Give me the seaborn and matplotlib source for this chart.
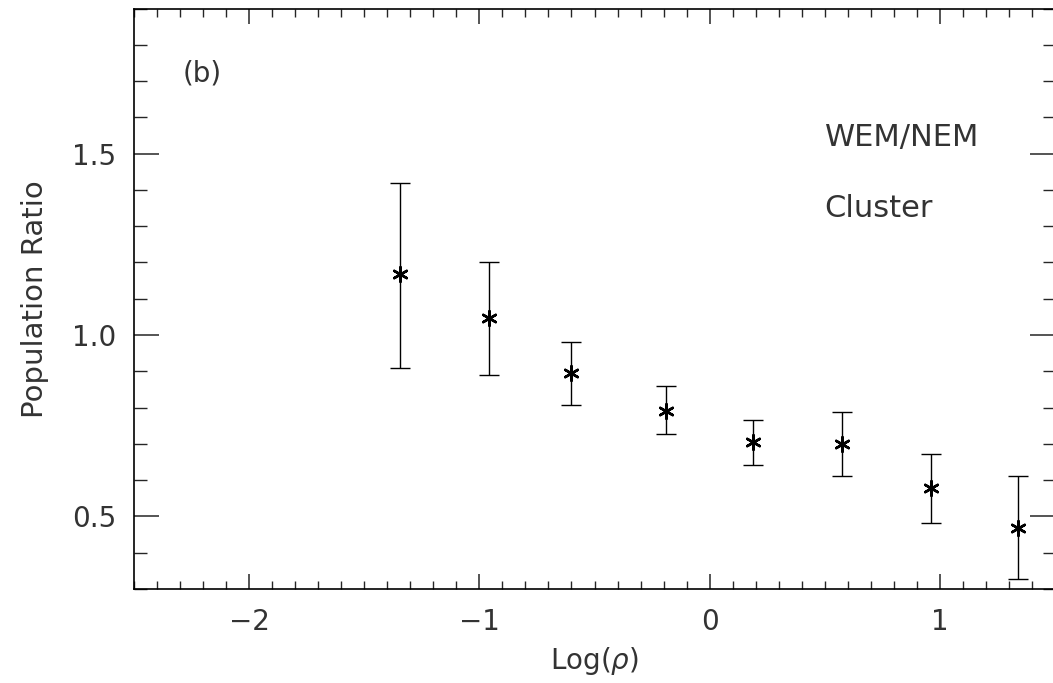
import matplotlib
matplotlib.use("Agg")
import matplotlib.pyplot as plt
import seaborn as sns
import numpy as np
import pandas as pd
from matplotlib.ticker import MultipleLocator

log_rho = [-1.345, -0.96, -0.60, -0.19, 0.19, 0.577, 0.96, 1.34]
ratio = [1.167, 1.047, 0.895, 0.791, 0.705, 0.700, 0.578, 0.469]
upper = [1.419, 1.200, 0.981, 0.860, 0.766, 0.788, 0.672, 0.612]
lower = [0.910, 0.890, 0.807, 0.727, 0.642, 0.612, 0.482, 0.327]

df = pd.DataFrame({"x": log_rho, "y": ratio, "hi": upper, "lo": lower})

sns.set_theme(style="ticks")
plt.rcParams['font.family'] = ['DejaVu Sans']

fig = plt.figure(figsize=(10.53, 6.83), dpi=100)
ax = fig.add_axes([134/1053, 94/683, 921/1053, 580.5/683])

ax.errorbar(df["x"], df["y"], yerr=[df["y"] - df["lo"], df["hi"] - df["y"]],
            fmt="none", ecolor="black", elinewidth=1.0, capsize=7, capthick=1.0)
sns.scatterplot(data=df, x="x", y="y", marker=(6, 2, 0), s=110, color="black",
                linewidth=1.8, edgecolor="black", ax=ax, zorder=3)

ax.set_xlim(-2.5, 1.5)
ax.set_ylim(0.3, 1.9)
ax.xaxis.set_minor_locator(MultipleLocator(0.1))
ax.yaxis.set_minor_locator(MultipleLocator(0.1))
ax.set_xticks([-2, -1, 0, 1])
ax.set_xticklabels(["\u22122", "\u22121", "0", "1"])
ax.set_yticks([0.5, 1.0, 1.5])
ax.set_yticklabels(["0.5", "1.0", "1.5"])

tc = "#333333"
ax.tick_params(axis="x", which="major", direction="in", length=11, width=1.1,
               top=True, bottom=True, labelsize=20, pad=14, labelcolor=tc)
ax.tick_params(axis="x", which="minor", direction="in", length=6, width=1.0,
               top=True, bottom=True)
ax.tick_params(axis="y", which="major", direction="in", length=18, width=1.1,
               left=True, right=True, labelsize=20, pad=13, labelcolor=tc)
ax.tick_params(axis="y", which="minor", direction="in", length=9, width=1.0,
               left=True, right=True)
for s in ax.spines.values():
    s.set_linewidth(1.2)
    s.set_color("black")

ax.set_xlabel("Log($\\rho$)", fontsize=20, color=tc, labelpad=6)
ax.set_ylabel("Population Ratio", fontsize=21, color=tc, labelpad=16)

ax.text(-2.29, 1.72, "(b)", fontsize=20, color=tc, va="center", ha="left")
ax.text(0.5, 1.545, "WEM/NEM", fontsize=22, color=tc, va="center", ha="left")
ax.text(0.5, 1.35, "Cluster", fontsize=22, color=tc, va="center", ha="left")

fig.savefig("out.png", dpi=100)
